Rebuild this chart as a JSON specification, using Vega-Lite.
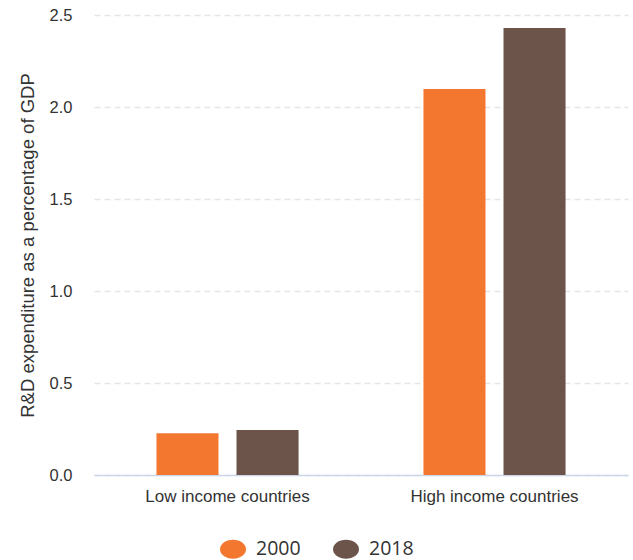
{
  "$schema": "https://vega.github.io/schema/vega-lite/v6.json",
  "width": 534,
  "height": 460,
  "autosize": {"type": "none"},
  "padding": {"left": 94, "top": 15, "right": 5, "bottom": 85},
  "background": "white",
  "config": {"view": {"stroke": null}},
  "data": {"values": [
    {"group": "Low income countries", "year": "2000", "value": 0.227},
    {"group": "Low income countries", "year": "2018", "value": 0.245},
    {"group": "High income countries", "year": "2000", "value": 2.098},
    {"group": "High income countries", "year": "2018", "value": 2.43}
  ]},
  "mark": {"type": "bar"},
  "encoding": {
    "x": {
      "field": "group", "type": "nominal",
      "sort": ["Low income countries", "High income countries"],
      "scale": {"paddingInner": 0, "paddingOuter": 0},
      "axis": {"title": null, "labelAngle": 0, "labelFont": "Liberation Sans", "labelFontSize": 17, "labelColor": "#333333", "labelPadding": 13.5, "ticks": false, "domainColor": "#ccd6eb", "domainWidth": 1.5}
    },
    "xOffset": {
      "field": "year", "type": "nominal",
      "scale": {"paddingInner": 0.225, "paddingOuter": 0.78}
    },
    "y": {
      "field": "value", "type": "quantitative",
      "scale": {"domain": [0, 2.5]},
      "axis": {
        "title": "R&D expenditure as a percentage of GDP",
        "titleFont": "Liberation Sans", "titleFontSize": 18.5, "titleFontWeight": "normal", "titleColor": "#333333", "titlePadding": 12,
        "values": [0, 0.5, 1, 1.5, 2, 2.5], "format": ".1f",
        "labelFont": "Liberation Sans", "labelFontSize": 16.5, "labelColor": "#333333", "labelPadding": 22,
        "domain": false, "ticks": false,
        "gridColor": "#e6e6e6", "gridDash": [6, 4], "gridWidth": 1.5
      }
    },
    "color": {
      "field": "year", "type": "nominal",
      "scale": {"domain": ["2000", "2018"], "range": ["#f47730", "#6c544a"]},
      "legend": {
        "title": null, "orient": "none", "direction": "horizontal", "legendX": 126, "legendY": 521,
        "symbolType": "M-1,0A1,0.73,0,1,0,1,0A1,0.73,0,1,0,-1,0Z", "symbolSize": 676, "symbolStrokeWidth": 0,
        "labelFont": "Open Sans", "labelFontSize": 19.5, "labelColor": "#333333",
        "columnPadding": 32, "labelOffset": 10
      }
    }
  }
}
